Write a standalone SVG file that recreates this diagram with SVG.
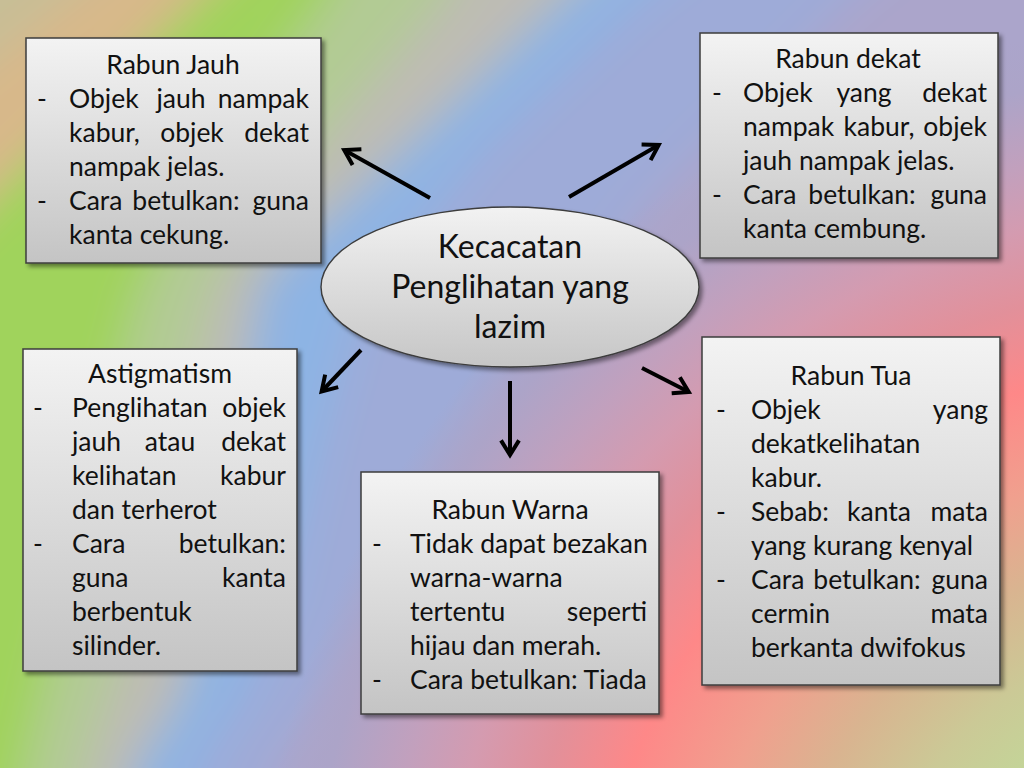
<svg xmlns="http://www.w3.org/2000/svg" width="1024" height="768" viewBox="0 0 1024 768">
<defs>
  <filter id="bgblur" filterUnits="userSpaceOnUse" x="-250" y="-250" width="1524" height="1268">
    <feGaussianBlur stdDeviation="22"/>
  </filter>
  <radialGradient id="rg" gradientUnits="userSpaceOnUse" cx="1213" cy="979" r="960">
    <stop offset="0" stop-color="#c4d698"/>
    <stop offset="0.295" stop-color="#c4d498"/>
    <stop offset="0.365" stop-color="#cbc996"/>
    <stop offset="0.454" stop-color="#d9b490"/>
    <stop offset="0.542" stop-color="#f0a08e"/>
    <stop offset="0.644" stop-color="#fe8888"/>
    <stop offset="0.727" stop-color="#e2909a"/>
    <stop offset="0.804" stop-color="#d49bb0"/>
    <stop offset="0.868" stop-color="#c2a0bd"/>
    <stop offset="0.945" stop-color="#aca4c8"/>
    <stop offset="1" stop-color="#aca4c8" stop-opacity="0"/>
  </radialGradient>
  <linearGradient id="boxfill" x1="0" y1="0" x2="0" y2="1">
    <stop offset="0" stop-color="#f3f3f3"/>
    <stop offset="1" stop-color="#c4c4c4"/>
  </linearGradient>
  <linearGradient id="ellfill" x1="0" y1="0" x2="0" y2="1">
    <stop offset="0" stop-color="#f2f2f2"/>
    <stop offset="1" stop-color="#c6c6c6"/>
  </linearGradient>
  <filter id="shadow" x="-10%" y="-10%" width="125%" height="125%">
    <feDropShadow dx="3" dy="3" stdDeviation="2" flood-color="#000" flood-opacity="0.45"/>
  </filter>
  <marker id="arr" viewBox="0 0 10 10" refX="7.5" refY="5" markerWidth="5" markerHeight="5" orient="auto" markerUnits="strokeWidth" overflow="visible">
    <path d="M1.2,0.5 L8.5,5 L1.2,9.5" fill="none" stroke="#000" stroke-width="2"/>
  </marker>
  <style>
    .box { fill: url(#boxfill); stroke: #3c3c3c; stroke-width: 1.5; filter: url(#shadow); }
    .ell { fill: url(#ellfill); stroke: #3c3c3c; stroke-width: 1.4; filter: url(#shadow); }
    text { font-family: Lato, "Open Sans", sans-serif; font-size: 26.5px; fill: #111; }
    .t { text-anchor: middle; }
    .m { text-anchor: middle; }
    .e { text-anchor: end; }
    .c { font-size: 32px; text-anchor: middle; }
    .arrow { stroke: #000; stroke-width: 4; fill: none; marker-end: url(#arr); }
  </style>
</defs>

<g id="background">
  <g filter="url(#bgblur)">
    <rect x="-250" y="-250" width="1524" height="1268" fill="#c8be96"/>
    <polygon fill="#d8b88a" points="324,-200 -200,212 -200,968 1224,968 1224,-200"/>
    <polygon fill="#a0d35c" points="402,-200 -200,384 -200,968 1224,968 1224,-200"/>
    <polygon fill="#b2cb94" points="440,-200 326,0 220,140 140,290 100,450 60,620 25,768 -10,968 1224,968 1224,-200"/>
    <polygon fill="#bebcb4" points="560,-200 445,0 330,130 215,280 180,420 140,600 85,768 50,968 1224,968 1224,-200"/>
    <polygon fill="#8db4e4" points="790,-200 562,0 420,135 262,280 238,420 215,580 180,700 135,768 100,968 1224,968 1224,-200"/>
    <polygon fill="#9eabd8" points="900,-200 640,0 480,150 360,300 320,450 285,600 240,700 195,768 160,968 1224,968 1224,-200"/>
    <polygon fill="#aba5cb" points="1100,-200 850,0 650,200 500,400 400,600 270,768 230,968 1224,968 1224,-200"/>
  </g>
  <circle cx="1213" cy="979" r="960" fill="url(#rg)"/>
</g>

<g id="connectors">
  <line class="arrow" x1="430" y1="198" x2="346" y2="151"/>
  <line class="arrow" x1="569" y1="197" x2="657" y2="146"/>
  <line class="arrow" x1="361" y1="350" x2="323" y2="390"/>
  <line class="arrow" x1="510" y1="381" x2="510" y2="453"/>
  <line class="arrow" x1="642" y1="368" x2="687" y2="391"/>
</g>

<g id="center">
  <ellipse class="ell" cx="510" cy="287" rx="189" ry="80"/>
  <text class="c" x="510" y="258">Kecacatan</text>
  <text class="c" x="510" y="298">Penglihatan yang</text>
  <text class="c" x="510" y="338">lazim</text>
</g>

<g id="rabun-jauh">
  <rect class="box" x="26" y="38" width="295" height="225"/>
  <text class="t" x="173" y="74">Rabun Jauh</text>
  <text x="37" y="108">-</text>
  <text x="69" y="108">Objek</text><text class="m" x="181" y="108">jauh</text><text class="e" x="309" y="108">nampak</text>
  <text x="69" y="142">kabur,</text><text class="m" x="192" y="142">objek</text><text class="e" x="309" y="142">dekat</text>
  <text x="69" y="176">nampak jelas.</text>
  <text x="37" y="210">-</text>
  <text x="69" y="210">Cara</text><text class="m" x="186" y="210">betulkan:</text><text class="e" x="309" y="210">guna</text>
  <text x="69" y="244">kanta cekung.</text>
</g>

<g id="rabun-dekat">
  <rect class="box" x="700" y="33" width="298" height="225"/>
  <text class="t" x="848" y="68">Rabun dekat</text>
  <text x="712" y="102">-</text>
  <text x="743" y="102">Objek</text><text class="m" x="864" y="102">yang</text><text class="e" x="987" y="102">dekat</text>
  <text x="743" y="136">nampak</text><text class="m" x="879" y="136">kabur,</text><text class="e" x="987" y="136">objek</text>
  <text x="743" y="170">jauh nampak jelas.</text>
  <text x="712" y="204">-</text>
  <text x="743" y="204">Cara</text><text class="m" x="862" y="204">betulkan:</text><text class="e" x="987" y="204">guna</text>
  <text x="743" y="238">kanta cembung.</text>
</g>

<g id="astigmatism">
  <rect class="box" x="23" y="349" width="274" height="322"/>
  <text class="t" x="160" y="383">Astigmatism</text>
  <text x="33" y="417">-</text>
  <text x="72" y="417">Penglihatan</text><text class="e" x="286" y="417">objek</text>
  <text x="72" y="451">jauh</text><text class="m" x="170" y="451">atau</text><text class="e" x="286" y="451">dekat</text>
  <text x="72" y="485">kelihatan</text><text class="e" x="286" y="485">kabur</text>
  <text x="72" y="519">dan terherot</text>
  <text x="33" y="553">-</text>
  <text x="72" y="553">Cara</text><text class="e" x="286" y="553">betulkan:</text>
  <text x="72" y="587">guna</text><text class="e" x="286" y="587">kanta</text>
  <text x="72" y="621">berbentuk</text>
  <text x="72" y="655">silinder.</text>
</g>

<g id="rabun-warna">
  <rect class="box" x="361" y="472" width="298" height="242"/>
  <text class="t" x="510" y="519">Rabun Warna</text>
  <text x="372" y="553">-</text>
  <text x="410" y="553">Tidak dapat bezakan</text>
  <text x="410" y="587">warna-warna</text>
  <text x="410" y="621">tertentu</text><text class="e" x="647" y="621">seperti</text>
  <text x="410" y="655">hijau dan merah.</text>
  <text x="372" y="689">-</text>
  <text x="410" y="689">Cara betulkan: Tiada</text>
</g>

<g id="rabun-tua">
  <rect class="box" x="702" y="337" width="298" height="348"/>
  <text class="t" x="851" y="385">Rabun Tua</text>
  <text x="716" y="419">-</text>
  <text x="751" y="419">Objek</text><text class="e" x="988" y="419">yang</text>
  <text x="751" y="453">dekatkelihatan</text>
  <text x="751" y="487">kabur.</text>
  <text x="716" y="521">-</text>
  <text x="751" y="521">Sebab:</text><text class="m" x="879" y="521">kanta</text><text class="e" x="988" y="521">mata</text>
  <text x="751" y="555">yang kurang kenyal</text>
  <text x="716" y="589">-</text>
  <text x="751" y="589">Cara</text><text class="m" x="867" y="589">betulkan:</text><text class="e" x="988" y="589">guna</text>
  <text x="751" y="623">cermin</text><text class="e" x="988" y="623">mata</text>
  <text x="751" y="657">berkanta dwifokus</text>
</g>
</svg>
